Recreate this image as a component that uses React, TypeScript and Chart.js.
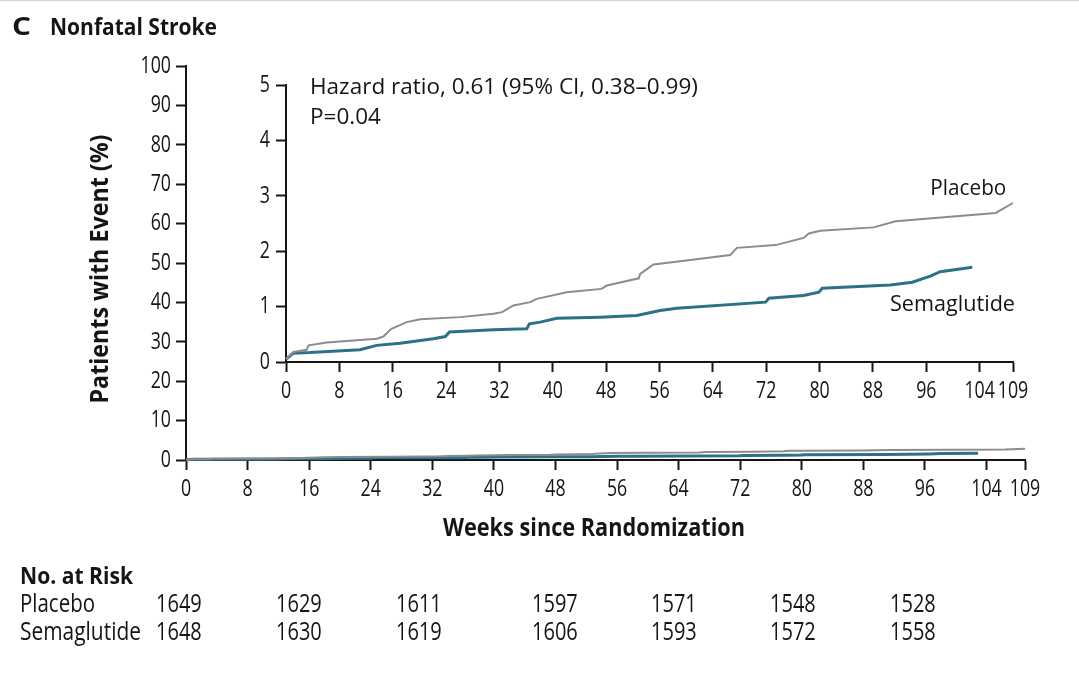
import { useEffect, useRef } from "react"
import { Chart, registerables } from "chart.js"

Chart.register(...registerables)

const FONT = "'Open Sans', Lato, sans-serif"
const INK = "#151515"
const PLACEBO_COLOR = "#8c8c8c"
const SEMA_COLOR = "#2b7187"

// weeks since randomization, cumulative incidence (%)
const placeboWeeks = [0, 1.1, 3.1, 3.4, 6.1, 13.6, 14.6, 15.8, 18.1, 20.1, 26.1, 31.1, 32.4, 34.1, 36.6, 37.6, 42.1, 47.3, 48.1, 52.9, 53.1, 55.1, 59.1, 66.6, 67.6, 73.4, 77.6, 78.4, 80.1, 88.1, 91.4, 106.4, 109]
const placeboPct = [0.05, 0.18, 0.22, 0.3, 0.35, 0.42, 0.46, 0.6, 0.72, 0.77, 0.81, 0.87, 0.9, 1.02, 1.08, 1.14, 1.26, 1.32, 1.38, 1.51, 1.59, 1.76, 1.82, 1.93, 2.06, 2.11, 2.24, 2.32, 2.37, 2.43, 2.54, 2.69, 2.87]

const semaWeeks = [0, 1.1, 3.6, 11.1, 13.6, 17.1, 22.1, 23.9, 24.5, 31.1, 36.1, 36.5, 38.1, 40.6, 47.1, 52.6, 56.1, 58.6, 71.9, 72.4, 77.6, 79.9, 80.4, 90.6, 93.9, 96.6, 98.1, 102.9]
const semaPct = [0.05, 0.16, 0.17, 0.22, 0.3, 0.34, 0.42, 0.46, 0.54, 0.58, 0.6, 0.69, 0.72, 0.79, 0.81, 0.84, 0.93, 0.97, 1.08, 1.15, 1.2, 1.26, 1.33, 1.39, 1.44, 1.55, 1.63, 1.71]

const weekTicks = [0, 8, 16, 24, 32, 40, 48, 56, 64, 72, 80, 88, 96, 104, 109]
const mainPctTicks = [0, 10, 20, 30, 40, 50, 60, 70, 80, 90, 100]
const insetPctTicks = [0, 1, 2, 3, 4, 5]

const riskGroups = ["Placebo", "Semaglutide"]
const riskPlacebo = [1649, 1629, 1611, 1597, 1571, 1548, 1528]
const riskSema = [1648, 1630, 1619, 1606, 1593, 1572, 1558]

const hazardText = "Hazard ratio, 0.61 (95% CI, 0.38\u20130.99)"
const pText = "P=0.04"

const TICK_FONT = `24px ${FONT}`
const TICK_SX = 0.74

const toPoints = (xs: number[], ys: number[]) => xs.map((x, i) => ({ x, y: ys[i] }))

// draws text, squeezed horizontally either to a fixed factor or to a target width
function text(
  ctx: CanvasRenderingContext2D,
  str: string,
  x: number,
  y: number,
  font: string,
  align: CanvasTextAlign,
  fit: { width?: number; sx?: number } = {}
) {
  ctx.save()
  ctx.font = font
  ctx.textAlign = align
  ctx.textBaseline = "middle"
  let sx = fit.sx ?? 1
  if (fit.width) sx = fit.width / ctx.measureText(str).width
  ctx.translate(x, y)
  ctx.scale(sx, 1)
  ctx.fillText(str, 0, 0)
  ctx.restore()
}

function datasets() {
  return [
    {
      label: "Placebo",
      data: toPoints(placeboWeeks, placeboPct),
      borderColor: PLACEBO_COLOR,
      borderWidth: 2,
      pointRadius: 0,
      tension: 0,
      clip: false as const,
    },
    {
      label: "Semaglutide",
      data: toPoints(semaWeeks, semaPct),
      borderColor: SEMA_COLOR,
      borderWidth: 3,
      pointRadius: 0,
      tension: 0,
      clip: false as const,
    },
  ]
}

function axis(ticks: number[], min: number, max: number, width: number | null, height: number | null) {
  return {
    type: "linear" as const,
    min,
    max,
    afterBuildTicks: (s: any) => {
      s.ticks = ticks.map((v) => ({ value: v }))
    },
    afterFit: (s: any) => {
      if (width !== null) s.width = width
      if (height !== null) s.height = height
    },
    border: { display: true, color: INK, width: 2 },
    grid: { display: true, drawOnChartArea: false, drawTicks: true, tickLength: 10, tickWidth: 2, tickColor: INK },
    ticks: { display: false, autoSkip: false },
  }
}

function tickLabels(chart: Chart, yTicks: number[], yRight: number, xCenterY: number) {
  const ctx = chart.ctx
  const xs = chart.scales.x
  const ys = chart.scales.y
  ctx.save()
  ctx.fillStyle = INK
  yTicks.forEach((v) => text(ctx, String(v), yRight, ys.getPixelForValue(v), TICK_FONT, "right", { sx: TICK_SX }))
  weekTicks.forEach((v) => text(ctx, String(v), xs.getPixelForValue(v), xCenterY, TICK_FONT, "center", { sx: TICK_SX }))
  ctx.restore()
}

const mainText = {
  id: "mainText",
  afterDraw(chart: Chart) {
    const ctx = chart.ctx
    ctx.save()
    ctx.fillStyle = INK
    tickLabels(chart, mainPctTicks, 171, 489)

    text(ctx, "C", 12, 28, `bold 25px ${FONT}`, "left", { width: 19 })
    text(ctx, "Nonfatal Stroke", 50, 28, `bold 23px ${FONT}`, "left", { width: 167 })
    text(ctx, "Weeks since Randomization", 594, 529, `bold 25px ${FONT}`, "center", { width: 302 })

    ctx.save()
    ctx.translate(101, 269)
    ctx.rotate(-Math.PI / 2)
    text(ctx, "Patients with Event (%)", 0, 0, `bold 25px ${FONT}`, "center", { width: 269 })
    ctx.restore()

    text(ctx, "No. at Risk", 20, 577, `bold 23px ${FONT}`, "left", { width: 113 })
    const cols = [156, 276, 396, 532, 651, 770, 890]
    const groupWidths = [75, 121]
    const rows = [riskPlacebo, riskSema]
    rows.forEach((vals, r) => {
      const y = 605 + r * 27.5
      text(ctx, riskGroups[r], 20, y, `26px ${FONT}`, "left", { width: groupWidths[r] })
      vals.forEach((v, i) => text(ctx, String(v), cols[i], y, `26px ${FONT}`, "left", { sx: 0.77 }))
    })
    ctx.restore()
  },
}

const insetText = {
  id: "insetText",
  afterDraw(chart: Chart) {
    const ctx = chart.ctx
    const x = chart.scales.x
    const y = chart.scales.y
    ctx.save()
    ctx.fillStyle = INK
    tickLabels(chart, insetPctTicks, 70, 351)
    const f = `21px ${FONT}`
    text(ctx, hazardText, 110, 48, f, "left", { width: 388 })
    text(ctx, pText, 110, 78, f, "left", { width: 71 })
    text(ctx, "Placebo", x.getPixelForValue(108), y.getPixelForValue(3.13), f, "right", { width: 76 })
    text(ctx, "Semaglutide", x.getPixelForValue(109.3), y.getPixelForValue(1.02), f, "right", { width: 125 })
    ctx.restore()
  },
}

export default function App() {
  const mainRef = useRef<HTMLCanvasElement>(null)
  const insetRef = useRef<HTMLCanvasElement>(null)

  useEffect(() => {
    document.body.style.margin = "0"
    if (!mainRef.current || !insetRef.current) return

    const main = new Chart(mainRef.current, {
      type: "line",
      data: { datasets: datasets() as any },
      options: {
        responsive: false,
        animation: false,
        layout: { padding: { left: 0, top: 66, right: 54, bottom: 0 } },
        plugins: { legend: { display: false }, tooltip: { enabled: false } },
        scales: {
          x: axis(weekTicks, 0, 109, null, 213),
          y: axis(mainPctTicks, 0, 100, 186, null),
        },
      },
      plugins: [mainText],
    })

    const inset = new Chart(insetRef.current, {
      type: "line",
      data: { datasets: datasets() as any },
      options: {
        responsive: false,
        animation: false,
        layout: { padding: { left: 0, top: 45, right: 47, bottom: 0 } },
        plugins: { legend: { display: false }, tooltip: { enabled: false } },
        scales: {
          x: axis(weekTicks, 0, 109, null, 58),
          y: axis(insetPctTicks, 0, 5, 86, null),
        },
      },
      plugins: [insetText],
    })

    return () => {
      main.destroy()
      inset.destroy()
    }
  }, [])

  return (
    <div style={{ position: "relative", width: 1079, height: 674, background: "#fff", borderTop: "1px solid #d4d4d4", boxSizing: "border-box" }}>
      <canvas ref={mainRef} width={1079} height={673} style={{ position: "absolute", left: 0, top: -1 }} />
      <canvas ref={insetRef} width={860} height={380} style={{ position: "absolute", left: 200, top: 39 }} />
    </div>
  )
}
